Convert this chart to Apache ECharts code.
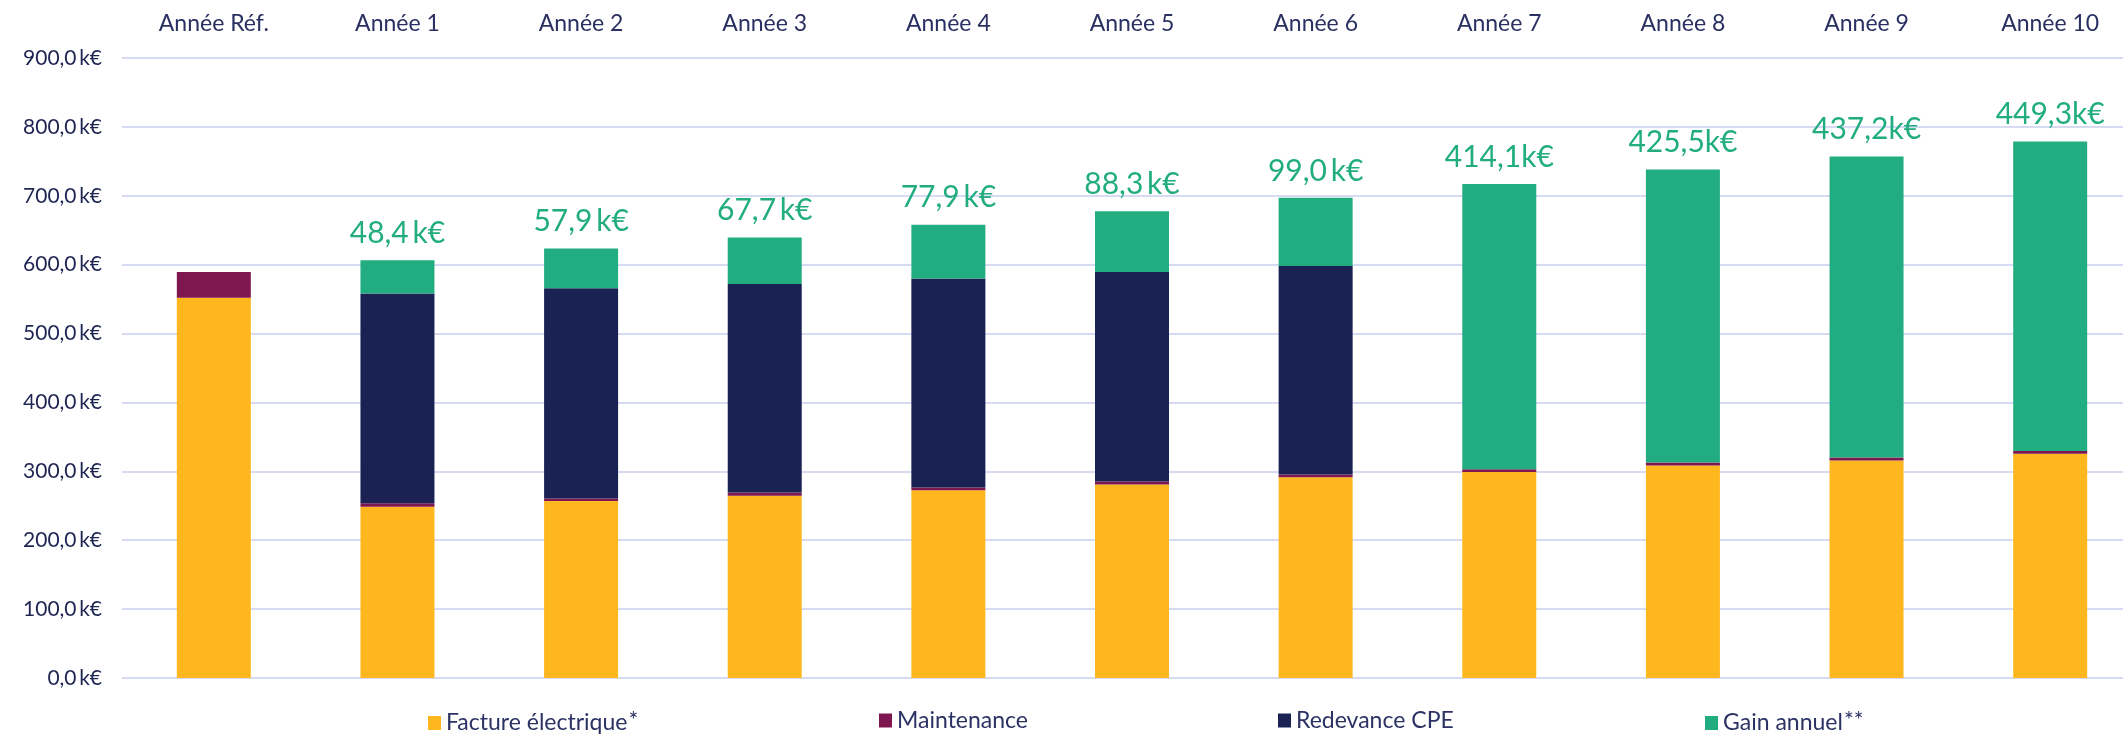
<!DOCTYPE html>
<html>
<head>
<meta charset="utf-8">
<script src="https://cdn.jsdelivr.net/npm/echarts@6/dist/echarts.min.js"></script>
<style>
html,body{margin:0;padding:0;background:#ffffff;overflow:hidden;}
#chart{width:2142px;height:734px;}
</style>
</head>
<body>
<div id="chart"></div>
<script>
// ---- data ----
const categories = ['Année Réf.', 'Année 1', 'Année 2', 'Année 3', 'Année 4', 'Année 5', 'Année 6', 'Année 7', 'Année 8', 'Année 9', 'Année 10'];
const facture     = [551.8, 248.5, 257.1, 264.4, 272.6, 280.8, 291.5, 299.2, 308.3, 315.6, 325.7];
const maintenance = [37.6, 5.0, 3.6, 5.0, 4.0, 4.3, 4.0, 3.9, 4.4, 4.3, 3.9];
const redevance   = [0, 304.6, 305.0, 302.4, 303.4, 304.3, 302.5, 0, 0, 0, 0];
const gain        = [0, 48.4, 57.9, 67.7, 77.9, 88.3, 99.0, 414.1, 425.5, 437.2, 449.3];
const gainLabels  = ['', '48,4\u2009k€', '57,9\u2009k€', '67,7\u2009k€', '77,9\u2009k€', '88,3\u2009k€', '99,0\u2009k€', '414,1k€', '425,5k€', '437,2k€', '449,3k€'];
const yTickLabels = ['0,0\u2009k€', '100,0\u2009k€', '200,0\u2009k€', '300,0\u2009k€', '400,0\u2009k€', '500,0\u2009k€', '600,0\u2009k€', '700,0\u2009k€', '800,0\u2009k€', '900,0\u2009k€'];
const seriesNames = ['Facture électrique', 'Maintenance', 'Redevance CPE', 'Gain annuel'];
const legendMarks = ['*', '', '', '**'];

// ---- styles ----
const colors = ['#FEB71E', '#7E1650', '#1A2254', '#22AD81'];
const FONT = 'Lato, "Noto Sans", sans-serif';
const textColor = '#1F2553';
const legendLeft = [428, 879, 1278, 1705];

const chart = echarts.init(document.getElementById('chart'), null, {renderer: 'canvas'});

const seriesData = [facture, maintenance, redevance, gain];

const series = seriesNames.map((name, i) => {
  const s = {
    name: name,
    type: 'bar',
    stack: 'total',
    barWidth: 74,
    data: seriesData[i],
    itemStyle: {color: colors[i]},
    emphasis: {disabled: true}
  };
  if (i === 3) {
    s.label = {
      show: true,
      position: 'top',
      distance: 12,
      formatter: p => gainLabels[p.dataIndex],
      color: '#22AD81',
      fontSize: 30,
      fontFamily: FONT
    };
  }
  return s;
});

const legends = seriesNames.map((name, i) => ({
  data: [name],
  left: legendLeft[i],
  top: 709,
  padding: 0,
  icon: 'rect',
  itemWidth: 13,
  itemHeight: 14,
  itemGap: 0,
  selectedMode: false,
  formatter: n => legendMarks[i] ? '{n|' + n + '}{s|' + legendMarks[i] + '}' : '{n|' + n + '}',
  textStyle: {
    color: '#2C3264',
    fontFamily: FONT,
    fontSize: 23,
    rich: {
      n: {fontSize: 23, fontFamily: FONT, color: '#2C3264'},
      s: {fontSize: 23, fontFamily: FONT, color: '#2C3264', verticalAlign: 'top', padding: [0, 0, 5, 1]}
    }
  }
}));

const option = {
  animation: false,
  backgroundColor: '#ffffff',
  grid: {left: 122, top: 58, right: 0, bottom: 56, containLabel: false},
  legend: legends,
  xAxis: {
    type: 'category',
    position: 'top',
    data: categories,
    axisLine: {show: false},
    axisTick: {show: false},
    axisLabel: {margin: 23, fontSize: 23, fontFamily: FONT, color: '#2A3062', interval: 0},
    splitLine: {show: false}
  },
  yAxis: {
    type: 'value',
    min: 0,
    max: 900,
    interval: 100,
    axisLine: {show: false},
    axisTick: {show: false},
    axisLabel: {
      margin: 20,
      fontSize: 21,
      fontFamily: FONT,
      color: textColor,
      formatter: v => yTickLabels[Math.round(v / 100)]
    },
    splitLine: {lineStyle: {color: '#D6DBF3', width: 2}}
  },
  series: series
};

chart.setOption(option);
</script>
</body>
</html>
